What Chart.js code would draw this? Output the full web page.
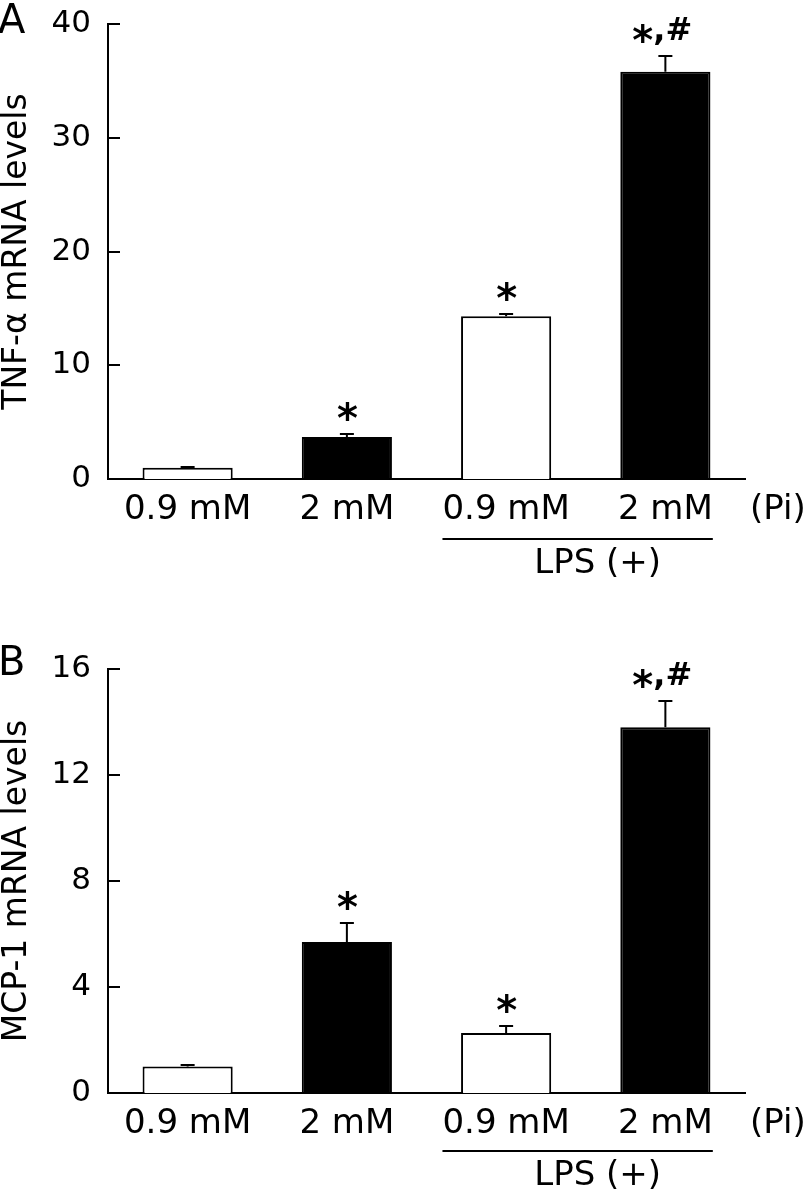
<!DOCTYPE html>
<html>
<head>
<meta charset="utf-8">
<script src="https://cdn.jsdelivr.net/npm/chart.js@4.4.0/dist/chart.umd.min.js"></script>
<style>
  body { margin: 0; background: #fff; }
  .panel { position: absolute; left: 0; width: 806px; height: 600px; }
</style>
</head>
<body>
<div class="panel" style="top:0"><canvas id="chartTnf"></canvas></div>
<div class="panel" style="top:600px"><canvas id="chartMcp"></canvas></div>
<script>
// ---------- dados ----------
const groups = ['0.9 mM', '2 mM', '0.9 mM', '2 mM'];
const barFills = ['#ffffff', '#000000', '#ffffff', '#000000'];

const tnfMeans = [1.0, 3.7, 14.3, 35.8];
const tnfErrors = [0.05, 0.25, 0.2, 1.4];
const tnfMarks = ['', '*', '*', '*,#'];
const tnfTicks = [0, 10, 20, 30, 40];

const mcpMeans = [1.0, 5.7, 2.26, 13.8];
const mcpErrors = [0.06, 0.72, 0.27, 1.0];
const mcpMarks = ['', '*', '*', '*,#'];
const mcpTicks = [0, 4, 8, 12, 16];

const FONT = "'DejaVu Sans', Verdana, sans-serif";

// ---------- plugin: ticks internos, barras de erro, asteriscos, LPS ----------
function decor(cfg) {
    return {
        id: 'decor',
        afterDraw(chart) {
            const ctx = chart.ctx;
            const area = chart.chartArea;
            const x = chart.scales.x, y = chart.scales.y;
            ctx.save();
            ctx.strokeStyle = '#000';
            ctx.fillStyle = '#000';
            ctx.lineWidth = 2;

            // ticks para dentro
            cfg.ticks.forEach(v => {
                const py = Math.round(y.getPixelForValue(v));
                ctx.beginPath();
                ctx.moveTo(area.left, py);
                ctx.lineTo(area.left + 12, py);
                ctx.stroke();
            });

            // barras de erro (só para cima)
            const meta = chart.getDatasetMeta(0);
            meta.data.forEach((bar, i) => {
                const top = y.getPixelForValue(cfg.means[i]);
                const cap = Math.round(y.getPixelForValue(cfg.means[i] + cfg.errors[i]));
                ctx.beginPath();
                ctx.moveTo(bar.x, top);
                ctx.lineTo(bar.x, cap);
                ctx.moveTo(bar.x - 7, cap);
                ctx.lineTo(bar.x + 7, cap);
                ctx.stroke();

                // asteriscos
                const text = cfg.marks[i];
                if (!text) return;
                ctx.font = 'bold 38px ' + FONT;
                ctx.textBaseline = 'alphabetic';
                ctx.textAlign = 'left';
                const w = ctx.measureText(text).width;
                let cx = bar.x - w / 2;
                const base = cap - 16;
                for (const ch of text) {
                    ctx.font = (ch === '*' ? 'bold 40px ' : 'bold 32px ') + FONT;
                    const m = ctx.measureText(ch);
                    let by = base;
                    if (ch === '*') by = cap - 13 - m.actualBoundingBoxDescent;
                    ctx.fillText(ch, cx, by);
                    cx += m.width;
                }
            });

            // (Pi)
            ctx.font = '34px ' + FONT;
            ctx.textBaseline = 'middle';
            ctx.textAlign = 'left';
            ctx.fillText('(Pi)', area.right + 5, area.bottom + 31);

            // linha LPS (+)
            const w3 = ctx.measureText(groups[2]).width;
            const w4 = ctx.measureText(groups[3]).width;
            const x1 = x.getPixelForValue(2) - w3 / 2;
            const x2 = x.getPixelForValue(3) + w4 / 2;
            const ly = area.bottom + cfg.lpsGap;
            ctx.beginPath();
            ctx.moveTo(x1, ly);
            ctx.lineTo(x2, ly);
            ctx.stroke();
            ctx.textAlign = 'center';
            ctx.fillText('LPS (+)', (x1 + x2) / 2 + 20, ly + 25);

            // letra do painel
            ctx.font = '40px ' + FONT;
            ctx.textAlign = 'left';
            ctx.textBaseline = 'alphabetic';
            ctx.fillText(cfg.letter, -2, cfg.letterY);
            ctx.restore();
        }
    };
}

function makeChart(el, means, ticks, yTitle, xHeight, padTop, plug) {
    return new Chart(document.getElementById(el), {
        type: 'bar',
        data: {
            labels: groups,
            datasets: [{
                data: means,
                backgroundColor: barFills,
                borderColor: '#000',
                borderWidth: 2,
                barPercentage: 0.566,
                categoryPercentage: 1
            }]
        },
        options: {
            responsive: true,
            maintainAspectRatio: false,
            animation: false,
            layout: { padding: { top: padTop, right: 61, left: 0, bottom: 0 } },
            plugins: { legend: { display: false }, tooltip: { enabled: false } },
            scales: {
                x: {
                    grid: { display: false, drawTicks: false },
                    border: { display: true, color: '#000', width: 2 },
                    ticks: { color: '#000', font: { family: FONT, size: 34 }, padding: 11, maxRotation: 0 },
                    afterFit: s => { s.height = xHeight; }
                },
                y: {
                    min: ticks[0],
                    max: ticks[ticks.length - 1],
                    grid: { display: false, drawTicks: false },
                    border: { display: true, color: '#000', width: 2 },
                    afterBuildTicks: s => { s.ticks = ticks.map(v => ({ value: v })); },
                    ticks: { color: '#000', font: { family: FONT, size: 31 }, padding: 17 },
                    title: {
                        display: true, text: yTitle, color: '#000',
                        font: { family: FONT, size: 33, lineHeight: 1 },
                        padding: { top: 1, bottom: 0 }
                    },
                    afterFit: s => { s.width = 108; s.paddingTop = 0; s.paddingBottom = 0; }
                }
            }
        },
        plugins: [plug]
    });
}

makeChart('chartTnf', tnfMeans, tnfTicks, 'TNF-α mRNA levels', 121, 24,
    decor({ ticks: tnfTicks, means: tnfMeans, errors: tnfErrors, marks: tnfMarks, lpsGap: 60, letter: 'A', letterY: 33 }));

makeChart('chartMcp', mcpMeans, mcpTicks, 'MCP-1 mRNA levels', 107, 69,
    decor({ ticks: mcpTicks, means: mcpMeans, errors: mcpErrors, marks: mcpMarks, lpsGap: 58, letter: 'B', letterY: 75 }));
</script>
</body>
</html>
